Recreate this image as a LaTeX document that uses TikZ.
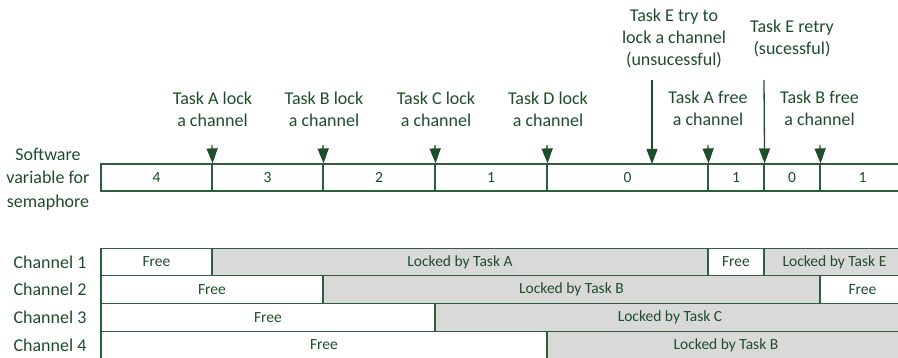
\documentclass[tikz,border=0pt]{standalone}
\usepackage{fontspec}
\setmainfont{Carlito}
\usetikzlibrary{arrows.meta}
\definecolor{semGreen}{HTML}{1E4D2B}
\definecolor{semLine}{HTML}{2E5E3C}
\definecolor{semGray}{HTML}{D9D9D9}
\tikzset{
  cell/.style={draw=semLine, line width=1.2pt, inner sep=0pt, text=semGreen,
    font=\fontsize{15.5}{18}\selectfont},
  semcell/.style={cell, fill=white, minimum height=27pt},
  freecell/.style={cell, fill=white, minimum height=27.7pt},
  lockcell/.style={cell, fill=semGray, minimum height=27.7pt},
  evtlabel/.style={text=semGreen, align=center, inner sep=0pt,
    font=\fontsize{18}{22}\selectfont},
  rowlabel/.style={text=semGreen, align=center, inner sep=0pt,
    font=\fontsize{18}{23.5}\selectfont},
  evtarrow/.style={draw=semGreen, line width=1.3pt,
    -{Triangle[width=11pt,length=15pt]}},
}
\begin{document}
\begin{tikzpicture}[x=1pt, y=-1pt]
\useasboundingbox (0,0) rectangle (898,358);
% Semaphore variable
\node[rowlabel] (semlbl) at (48,179) {Software\\variable for\\semaphore};
\node[semcell, minimum width=111pt] (s4)  at (156.5,177.5) {4};
\node[semcell, minimum width=111pt] (s3)  at (267.5,177.5) {3};
\node[semcell, minimum width=112pt] (s2)  at (379,177.5) {2};
\node[semcell, minimum width=112pt] (s1a) at (491,177.5) {1};
\node[semcell, minimum width=161pt] (s0a) at (627.5,177.5) {0};
\node[semcell, minimum width=56pt]  (s1b) at (736,177.5) {1};
\node[semcell, minimum width=56pt]  (s0b) at (792,177.5) {0};
\node[semcell, minimum width=85pt]  (s1c) at (862.5,177.5) {1};
% Events
\node[evtlabel] (lA) at (212.5,109) {Task A lock\\a channel};
\node[evtlabel] (lB) at (324,109) {Task B lock\\a channel};
\node[evtlabel] (lC) at (436,109) {Task C lock\\a channel};
\node[evtlabel] (lD) at (548,109) {Task D lock\\a channel};
\node[evtlabel] (lEtry) at (674,39) {Task E try to\\lock a channel\\(unsucessful)};
\node[evtlabel] (lAfree) at (708,108) {Task A free\\a channel};
\node[evtlabel] (lEok) at (792,39) {Task E retry\\(sucessful)};
\node[evtlabel] (lBfree) at (819.5,108) {Task B free\\a channel};
\coordinate (aA) at (212,145);
\coordinate (aB) at (323,145);
\coordinate (aC) at (435,145);
\coordinate (aD) at (547,145);
\coordinate (aEtry) at (652,80);
\coordinate (eEtry) at (652,164);
\coordinate (aAfree) at (708,145);
\coordinate (aEok) at (764,80);
\coordinate (aBfree) at (820,145);
\draw[evtarrow] (aA) -- (s4.north east);
\draw[evtarrow] (aB) -- (s3.north east);
\draw[evtarrow] (aC) -- (s2.north east);
\draw[evtarrow] (aD) -- (s1a.north east);
\draw[evtarrow] (aEtry) -- (eEtry);
\draw[evtarrow] (aAfree) -- (s0a.north east);
\draw[evtarrow] (aEok) -- (s1b.north east);
\draw[evtarrow] (aBfree) -- (s0b.north east);
% Channels
\node[rowlabel] (ch1) at (50,262) {Channel 1};
\node[rowlabel] (ch2) at (50,289.7) {Channel 2};
\node[rowlabel] (ch3) at (50,317.3) {Channel 3};
\node[rowlabel] (ch4) at (50,345) {Channel 4};
\node[freecell, minimum width=111pt] (c1a) at (156.5,262) {Free};
\node[lockcell, minimum width=496pt] (c1b) at (460,262) {Locked by Task A};
\node[freecell, minimum width=56pt]  (c1c) at (736,262) {Free};
\node[lockcell, minimum width=141pt] (c1d) at (834.5,262) {Locked by Task E};
\node[freecell, minimum width=222pt] (c2a) at (212,289.7) {Free};
\node[lockcell, minimum width=497pt] (c2b) at (571.5,289.7) {Locked by Task B};
\node[freecell, minimum width=85pt]  (c2c) at (862.5,289.7) {Free};
\node[freecell, minimum width=334pt] (c3a) at (268,317.3) {Free};
\node[lockcell, minimum width=470pt] (c3b) at (670,317.3) {Locked by Task C};
\node[freecell, minimum width=446pt] (c4a) at (324,345) {Free};
\node[lockcell, minimum width=358pt] (c4b) at (726,345) {Locked by Task B};
\end{tikzpicture}
\end{document}
